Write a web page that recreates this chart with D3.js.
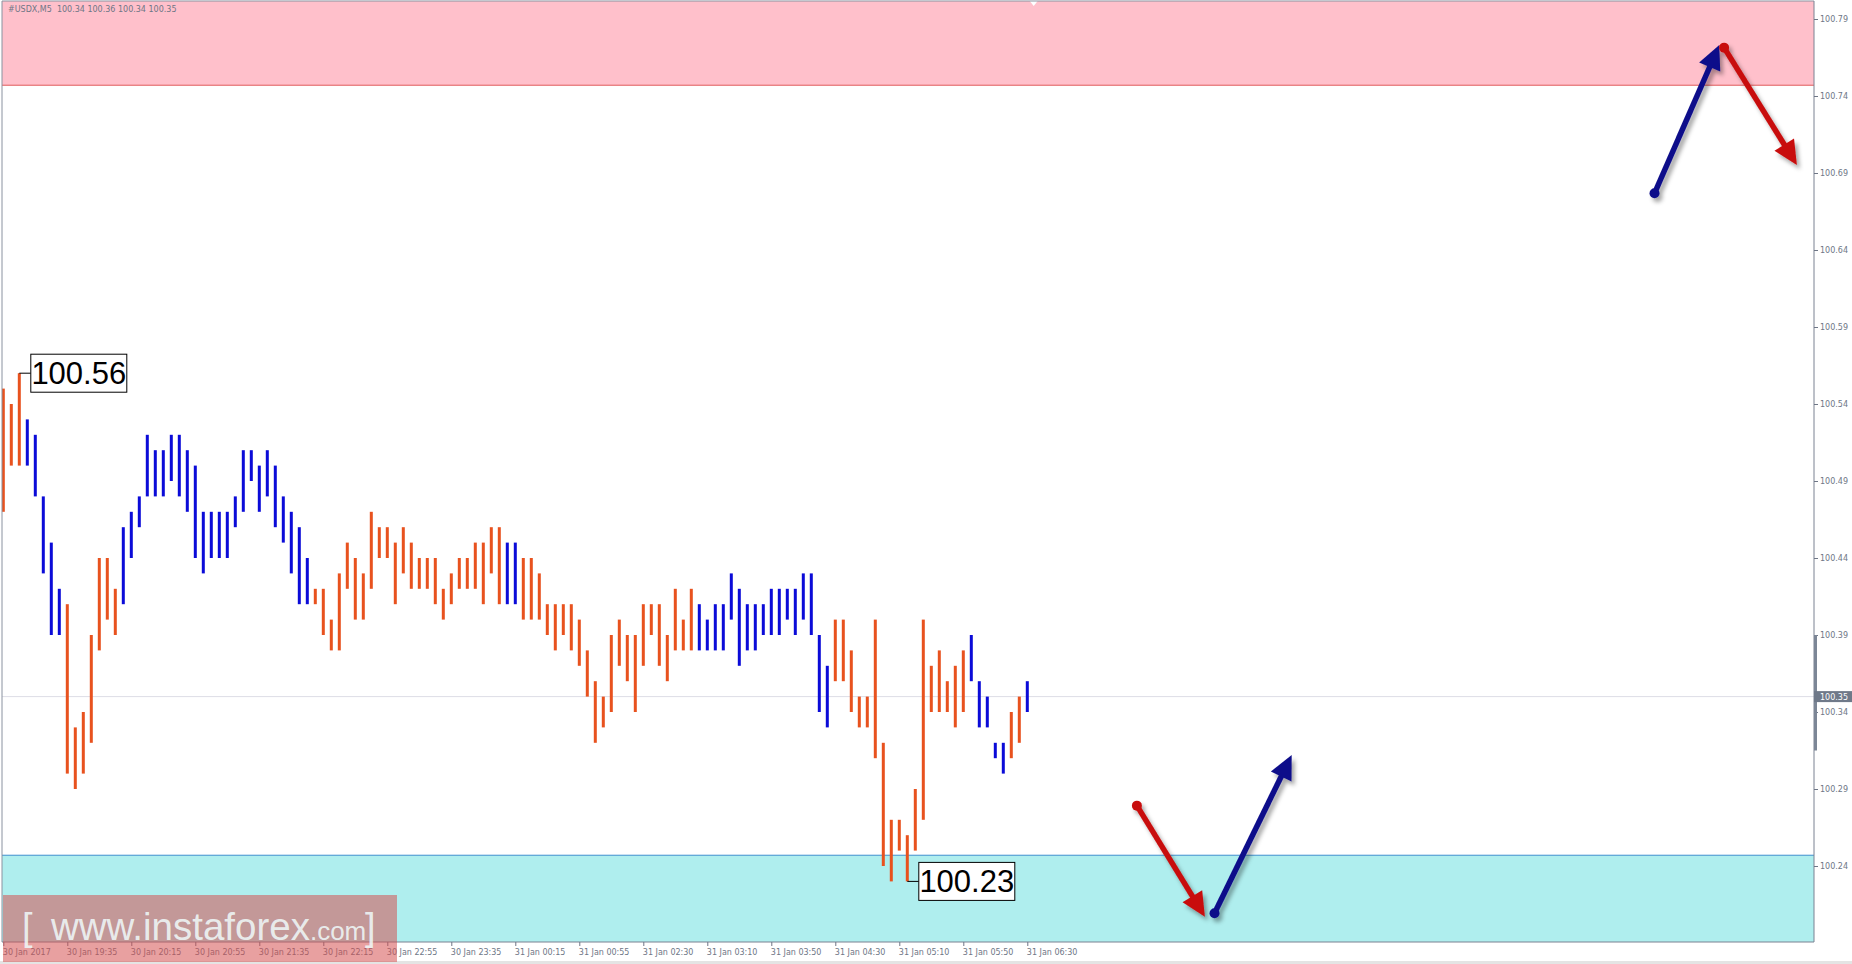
<!DOCTYPE html>
<html><head><meta charset="utf-8">
<script src="https://cdn.jsdelivr.net/npm/d3@7"></script>
<style>html,body{margin:0;padding:0;background:#fff;overflow:hidden}</style>
</head><body><svg id="c" width="1852" height="964"></svg>
<script>
// ---------------- DATA ----------------
const symbol = "#USDX,M5";
const lastOHLC = [100.34, 100.36, 100.34, 100.35];
const highs = [
 100.55,100.54,100.56,100.53,100.52,100.48,100.45,100.42,100.41,100.33,
 100.34,100.39,100.44,100.44,100.42,100.46,100.47,100.48,100.52,100.51,
 100.51,100.52,100.52,100.51,100.50,100.47,100.47,100.47,100.47,100.48,
 100.51,100.51,100.50,100.51,100.50,100.48,100.47,100.46,100.44,100.42,
 100.42,100.40,100.43,100.45,100.44,100.43,100.47,100.46,100.46,100.45,
 100.46,100.45,100.44,100.44,100.44,100.42,100.43,100.44,100.44,100.45,
 100.45,100.46,100.46,100.45,100.45,100.44,100.44,100.43,100.41,100.41,
 100.41,100.41,100.40,100.38,100.36,100.35,100.39,100.40,100.39,100.39,
 100.41,100.41,100.41,100.39,100.42,100.40,100.42,100.41,100.40,100.41,
 100.41,100.43,100.42,100.41,100.41,100.41,100.42,100.42,100.42,100.42,
 100.43,100.43,100.39,100.37,100.40,100.40,100.38,100.35,100.35,100.40,
 100.32,100.27,100.27,100.26,100.29,100.40,100.37,100.38,100.36,100.37,
 100.38,100.39,100.36,100.35,100.32,100.32,100.34,100.35,100.36];
const lows = [
 100.47,100.50,100.50,100.50,100.48,100.43,100.39,100.39,100.30,100.29,
 100.30,100.32,100.38,100.40,100.39,100.41,100.44,100.46,100.48,100.48,
 100.48,100.49,100.48,100.47,100.44,100.43,100.44,100.44,100.44,100.46,
 100.47,100.49,100.47,100.48,100.46,100.45,100.43,100.41,100.41,100.41,
 100.39,100.38,100.38,100.42,100.40,100.40,100.42,100.44,100.44,100.41,
 100.43,100.42,100.42,100.42,100.41,100.40,100.41,100.42,100.42,100.42,
 100.41,100.43,100.41,100.41,100.41,100.40,100.40,100.40,100.39,100.38,
 100.39,100.38,100.37,100.35,100.32,100.33,100.34,100.37,100.36,100.34,
 100.37,100.39,100.37,100.36,100.38,100.38,100.38,100.38,100.38,100.38,
 100.38,100.40,100.37,100.38,100.38,100.39,100.39,100.39,100.40,100.39,
 100.40,100.39,100.34,100.33,100.36,100.36,100.34,100.33,100.33,100.31,
 100.24,100.23,100.25,100.23,100.25,100.27,100.34,100.34,100.34,100.33,
 100.34,100.36,100.33,100.33,100.31,100.30,100.31,100.32,100.34];
// O = up bar (orange), B = down bar (blue)
const dirs = "OOOBBBBBOO"+"OOOOOBBBBB"+"BBBBBBBBBB"+"BBBBBBBBBO"+"OOOOOOOOOO"+"OOOOOOOOOO"+
             "OOOBBOOOOO"+"OOOOOOOOOO"+"OOOOOOOBBB"+"BBBBBBBBBB"+"BBBBOOOOOO"+"OOOOOOOOOO"+"OBBBBBOOB";
const timeLabels = ["30 Jan 2017","30 Jan 19:35","30 Jan 20:15","30 Jan 20:55","30 Jan 21:35",
  "30 Jan 22:15","30 Jan 22:55","30 Jan 23:35","31 Jan 00:15","31 Jan 00:55","31 Jan 02:30",
  "31 Jan 03:10","31 Jan 03:50","31 Jan 04:30","31 Jan 05:10","31 Jan 05:50","31 Jan 06:30"];
const timeLabelBars = [0,8,16,24,32,40,48,56,64,72,80,88,96,104,112,120,128];
const priceTicks = [100.79,100.74,100.69,100.64,100.59,100.54,100.49,100.44,100.39,100.34,100.29,100.24];
const resistanceZone = [100.747, 100.82];
const supportZone = [100.15, 100.247];
const axisRangeMarker = [100.315, 100.39];
const chartShiftBar = 128.8;
const extremeLabels = [
  {bar: 2,   price: 100.56, text: "100.56"},
  {bar: 113, price: 100.23, text: "100.23"}];
// forecast arrows
const arrowStartBars  = [141.7, 151.4, 206.4, 215.1];
const arrowStartPrice = [100.2792, 100.2093, 100.6768, 100.7714];
const arrowEndBars    = [150.2, 161.05, 214.5, 224.2];
const arrowEndPrice   = [100.2071, 100.3121, 100.7731, 100.6952];
const arrowKinds      = ["down","up","up","down"];

// ---------------- LAYOUT ----------------
const W = 1852, H = 964;
const P = {l: 2, t: 1, r: 1814, b: 942};
const svg = d3.select("#c");
const x = d3.scaleLinear().domain([0, 128]).range([3.3, 1027.3]);
const y = d3.scaleLinear().domain([100.24, 100.79]).range([866, 19]);
const FONT = "'DejaVu Sans', Tahoma, sans-serif";
const axisGray = "#6e7686";

svg.append("rect").attr("width", W).attr("height", H).attr("fill", "#fff");
svg.append("rect").attr("x", 0).attr("y", 961).attr("width", W).attr("height", 3).attr("fill", "#e4e4e4");

const defs = svg.append("defs");
defs.append("clipPath").attr("id", "plot").append("rect")
  .attr("x", P.l).attr("y", P.t).attr("width", P.r - P.l).attr("height", P.b - P.t);
const f = defs.append("filter").attr("id", "sh").attr("x", "-50%").attr("y", "-50%").attr("width", "200%").attr("height", "200%");
f.append("feDropShadow").attr("dx", 3).attr("dy", 4).attr("stdDeviation", 2.2)
  .attr("flood-color", "#000").attr("flood-opacity", 0.35);

const g = svg.append("g").attr("clip-path", "url(#plot)");

// zones
g.append("rect").attr("x", P.l).attr("width", P.r - P.l)
  .attr("y", y(resistanceZone[1])).attr("height", y(resistanceZone[0]) - y(resistanceZone[1]))
  .attr("fill", "#ffc0cb");
g.append("line").attr("x1", P.l).attr("x2", P.r).attr("y1", y(resistanceZone[0])).attr("y2", y(resistanceZone[0]))
  .attr("stroke", "#e05a5a").attr("stroke-width", 1);
g.append("rect").attr("x", P.l).attr("width", P.r - P.l)
  .attr("y", y(supportZone[1])).attr("height", y(supportZone[0]) - y(supportZone[1]))
  .attr("fill", "#afeeee");
g.append("line").attr("x1", P.l).attr("x2", P.r).attr("y1", y(supportZone[1])).attr("y2", y(supportZone[1]))
  .attr("stroke", "#3f8fcf").attr("stroke-width", 1);

// current price line
g.append("line").attr("x1", P.l).attr("x2", P.r).attr("y1", y(lastOHLC[3])).attr("y2", y(lastOHLC[3]))
  .attr("stroke", "#dddde6").attr("stroke-width", 1);

// chart shift marker
const sx = x(chartShiftBar);
g.append("path").attr("d", `M${sx-4},${P.t} L${sx+4},${P.t} L${sx},${P.t+5} Z`).attr("fill", "#fff");

// bars
const bars = highs.map((h, i) => ({i, h, l: lows[i], d: dirs[i]}));
g.selectAll("rect.bar").data(bars).join("rect").attr("class", "bar")
  .attr("x", d => x(d.i) - 1.5).attr("width", 3)
  .attr("y", d => y(d.h)).attr("height", d => Math.max(1, y(d.l) - y(d.h)))
  .attr("fill", d => d.d === "O" ? "#e8521e" : "#0b0bd8");

// extreme labels
extremeLabels.forEach(e => {
  const bx = x(e.bar), by = y(e.price);
  const boxX = bx + 11.5, boxW = 96, boxH = 38;
  g.append("line").attr("x1", bx).attr("x2", boxX).attr("y1", by).attr("y2", by)
    .attr("stroke", "#000").attr("stroke-width", 1);
  g.append("rect").attr("x", boxX).attr("y", by - boxH / 2).attr("width", boxW).attr("height", boxH)
    .attr("fill", "#fff").attr("stroke", "#000").attr("stroke-width", 1);
  g.append("text").attr("x", boxX + boxW / 2).attr("y", by + 11)
    .attr("text-anchor", "middle").attr("font-family", "'Liberation Sans', Arial, sans-serif")
    .attr("font-size", 31).attr("fill", "#000").text(e.text);
});

// forecast arrows
const colours = {up: "#10108a", down: "#c80c0c"};
arrowKinds.forEach((k, i) => {
  const x1 = x(arrowStartBars[i]), y1 = y(arrowStartPrice[i]);
  const x2 = x(arrowEndBars[i]), y2 = y(arrowEndPrice[i]);
  const ang = Math.atan2(y2 - y1, x2 - x1);
  const L = 24, Hw = 11.5;
  const bxp = x2 - L * Math.cos(ang), byp = y2 - L * Math.sin(ang);
  const px = -Math.sin(ang), py = Math.cos(ang);
  const ag = svg.append("g").attr("filter", "url(#sh)");
  ag.append("line").attr("x1", x1).attr("y1", y1).attr("x2", bxp + 2 * Math.cos(ang)).attr("y2", byp + 2 * Math.sin(ang))
    .attr("stroke", colours[k]).attr("stroke-width", 5.5);
  ag.append("path").attr("d", `M${x2},${y2} L${bxp + px * Hw},${byp + py * Hw} L${bxp - px * Hw},${byp - py * Hw} Z`)
    .attr("fill", colours[k]);
  ag.append("circle").attr("cx", x1).attr("cy", y1).attr("r", 5).attr("fill", colours[k]);
});

// frame
svg.append("path").attr("d", `M${P.l},${P.b} L${P.l},${P.t} L${P.r},${P.t}`)
  .attr("fill", "none").attr("stroke", "#8a92a0").attr("stroke-width", 1);
svg.append("line").attr("x1", P.l).attr("x2", P.r).attr("y1", P.b).attr("y2", P.b)
  .attr("stroke", "#7a8292").attr("stroke-width", 1);

// y axis
const yAxis = svg.append("g").attr("transform", `translate(${P.r},0)`)
  .call(d3.axisRight(y).tickValues(priceTicks).tickSize(4).tickPadding(2).tickFormat(d3.format(".2f")));
yAxis.select(".domain").attr("d", `M0,${P.t}V${P.b}`).attr("stroke", "#7a8292");
yAxis.selectAll(".tick line").attr("stroke", axisGray);
yAxis.selectAll(".tick text").attr("font-family", FONT).attr("font-size", 8).attr("fill", axisGray);

// axis range marker
svg.append("rect").attr("x", P.r).attr("width", 3).attr("y", y(axisRangeMarker[1]))
  .attr("height", y(axisRangeMarker[0]) - y(axisRangeMarker[1])).attr("fill", "#7c8696");

// current price tag
const cy = y(lastOHLC[3]);
svg.append("rect").attr("x", P.r).attr("y", cy - 5.5).attr("width", W - P.r).attr("height", 11).attr("fill", "#6f7989");
svg.append("text").attr("x", P.r + 6).attr("y", cy + 3).attr("font-family", FONT).attr("font-size", 8)
  .attr("fill", "#fff").text(d3.format(".2f")(lastOHLC[3]));

// x axis
const xAxis = svg.append("g").attr("transform", `translate(0,${P.b})`)
  .call(d3.axisBottom(x).tickValues(timeLabelBars).tickSize(4).tickFormat((d, i) => timeLabels[i]));
xAxis.select(".domain").remove();
xAxis.selectAll(".tick line").attr("stroke", axisGray);
xAxis.selectAll(".tick text").attr("font-family", FONT).attr("font-size", 8).attr("fill", axisGray)
  .attr("text-anchor", "start").attr("x", -1).attr("y", 7);

// header
svg.append("text").attr("x", 8).attr("y", 12).attr("font-family", FONT).attr("font-size", 8)
  .attr("fill", axisGray).attr("xml:space", "preserve")
  .text(symbol + "  " + lastOHLC.map(d3.format(".2f")).join(" "));

// watermark
svg.append("rect").attr("x", 3).attr("y", 895).attr("width", 394).attr("height", 67)
  .attr("fill", "rgb(212,79,79)").attr("fill-opacity", 0.54);
const wm = svg.append("text").attr("y", 940).attr("font-family", "'Liberation Sans', Arial, sans-serif")
  .attr("fill", "#eef6f6").attr("fill-opacity", 0.9).attr("xml:space", "preserve");
wm.append("tspan").attr("x", 22).attr("font-size", 38).attr("font-weight", 300).text("[");
wm.append("tspan").attr("x", 51).attr("font-size", 38.5).text("www.instaforex");
wm.append("tspan").attr("font-size", 26).text(".com");
wm.append("tspan").attr("x", 365).attr("font-size", 38).text("]");
</script></body></html>
